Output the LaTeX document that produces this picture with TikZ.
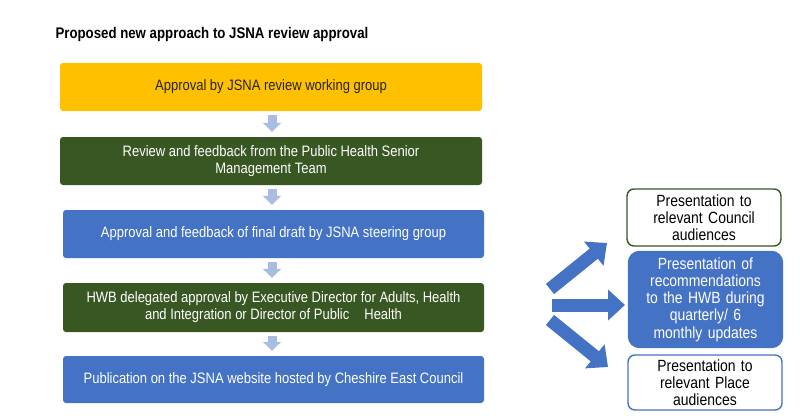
\documentclass[tikz,border=0pt]{standalone}
\usepackage{fontspec}
\setmainfont{Liberation Sans}[FakeStretch=0.86]
\usetikzlibrary{arrows.meta}
\definecolor{jyellow}{HTML}{FFC000}
\definecolor{jgreen}{HTML}{385723}
\definecolor{jblue}{HTML}{4472C4}
\definecolor{jlight}{HTML}{A9BCE2}
\tikzset{
  box/.style={rounded corners=3pt, minimum height=48pt, inner sep=0pt, align=center,
    font=\fontsize{15.1}{16.9}\selectfont},
  sidebox/.style={rounded corners=7pt, draw, line width=1.4pt, fill=white, inner sep=0pt,
    minimum width=154pt, align=center, text width=150pt,
    font=\fontsize{16.2}{17.2}\selectfont},
  downarr/.style={line width=9pt, draw=jlight, -{Triangle[width=18pt,length=9pt]}},
  bigarr/.style={line width=13pt, draw=jblue, -{Triangle[width=30pt,length=17pt]}},
}
\begin{document}
\begin{tikzpicture}[x=1pt,y=-1pt]
\useasboundingbox (0,0) rectangle (800,420);
\node[anchor=west, font=\bfseries\fontsize{15.4}{17}\selectfont] (title) at (52,35) {Proposed new approach to JSNA review approval};

\node[box, fill=jyellow, text=black!85, minimum width=422pt] (b1) at (271,87) {Approval by JSNA review working group};
\node[box, fill=jgreen, text=white, minimum width=422pt] (b2) at (271,161) {Review and feedback from the Public Health Senior\\Management Team};
\node[box, fill=jblue, text=white, minimum width=421pt] (b3) at (273.5,234) {Approval and feedback of final draft by JSNA steering group};
\node[box, fill=jgreen, text=white, minimum width=421pt, minimum height=49pt] (b4) at (273.5,307.5) {HWB delegated approval by Executive Director for Adults, Health\\and Integration or Director of Public\quad Health};
\node[box, fill=jblue, text=white, minimum width=421pt, minimum height=47pt] (b5) at (273.5,379.5) {Publication on the JSNA website hosted by Cheshire East Council};

\draw[downarr] ([yshift=-4pt]b1.south -| 272,0) -- ([yshift=5pt]b2.north -| 272,0);
\draw[downarr] ([yshift=-4pt]b2.south -| 272,0) -- ([yshift=5pt]b3.north -| 272,0);
\draw[downarr] ([yshift=-4pt]b3.south -| 272,0) -- ([yshift=5pt]b4.north -| 272,0);
\draw[downarr] ([yshift=-4pt]b4.south -| 272,0) -- ([yshift=5pt]b5.north -| 272,0);

\node[sidebox, draw=jgreen, minimum height=57pt] (r1) at (704,217.5) {Presentation to\\relevant Council\\audiences};
\node[sidebox, draw=jblue, fill=jblue, text=white, rounded corners=11pt, minimum height=96pt] (r2) at (705.5,299.5) {Presentation of\\recommendations\\to the HWB during\\quarterly/ 6\\monthly updates};
\node[sidebox, draw=jblue, minimum height=55pt] (r3) at (705,382.5) {Presentation to\\relevant Place\\audiences};

\coordinate (u0) at (550,289); \coordinate (u1) at (607,243);
\coordinate (m0) at (552,305); \coordinate (m1) at (625,305);
\coordinate (l0) at (550,320); \coordinate (l1) at (608,367);
\draw[bigarr] (u0) -- (u1);
\draw[bigarr] (m0) -- (m1);
\draw[bigarr] (l0) -- (l1);
\end{tikzpicture}
\end{document}
